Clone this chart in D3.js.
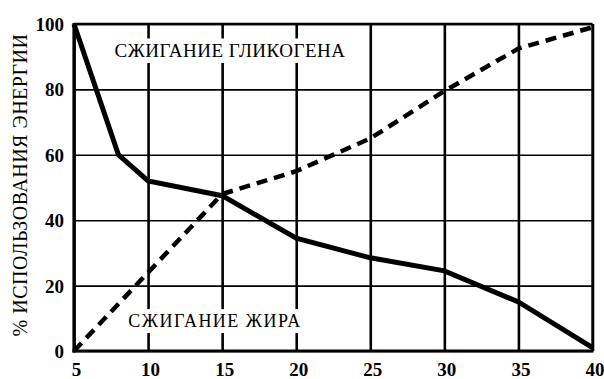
<!DOCTYPE html>
<html><head><meta charset="utf-8">
<script src="https://cdn.jsdelivr.net/npm/d3@7"></script>
<style>body{margin:0;background:#fff}svg{display:block}
svg text{font-family:"Liberation Serif","DejaVu Serif",serif;}
</style>
</head><body>
<svg id="c" width="604" height="379"></svg>
<script>
const xTicks = [5,10,15,20,25,30,35,40];
const yTicks = [0,20,40,60,80,100];
const fatX = [5,8,10,15,20,25,30,35,40];
const fatY = [100,60,52,47.5,34.5,28.5,24.5,15,1];
const glyX = [5,10,15,20,25,30,35,40];
const glyY = [0,24,48,55,65,79.5,92.5,99];
const yTitle = "% ИСПОЛЬЗОВАНИЯ ЭНЕРГИИ";
const labelGly = "СЖИГАНИЕ ГЛИКОГЕНА";
const labelFat = "СЖИГАНИЕ ЖИРА";

const svg = d3.select("#c");
const L=74, R=592.5, T=24, B=351;
const x = d3.scaleLinear().domain([5,40]).range([L,R]);
const y = d3.scaleLinear().domain([0,100]).range([B,T]);

const gy = svg.append("g").attr("transform",`translate(${L},0)`)
  .call(d3.axisLeft(y).tickValues(yTicks).tickSize(-(R-L)).tickPadding(10));
gy.select(".domain").remove();
gy.attr("font-family",null);
gy.selectAll(".tick line").attr("stroke","#000").attr("stroke-width",1.6);
gy.selectAll(".tick text").style("font-weight","bold")
  .style("font-size","19px").attr("fill","#000").attr("dy","0.34em");

const gx = svg.append("g").attr("transform",`translate(0,${B})`)
  .call(d3.axisBottom(x).tickValues(xTicks).tickSize(-(B-T)).tickPadding(0));
gx.select(".domain").remove();
gx.attr("font-family",null);
gx.selectAll(".tick line").attr("stroke","#000").attr("stroke-width",2.6);
gx.selectAll(".tick text").style("font-weight","bold")
  .style("font-size","19px").attr("fill","#000").attr("dy","0").attr("y",25).attr("dx",2);

svg.append("line").attr("x1",L).attr("x2",R).attr("y1",T).attr("y2",T).attr("stroke","#000").attr("stroke-width",2.4);
svg.append("line").attr("x1",R).attr("x2",R).attr("y1",T).attr("y2",B).attr("stroke","#000").attr("stroke-width",2.2);
svg.append("line").attr("x1",L).attr("x2",L).attr("y1",T-1).attr("y2",B+1.5).attr("stroke","#000").attr("stroke-width",3.2);
svg.append("line").attr("x1",L-1.5).attr("x2",R+1).attr("y1",B).attr("y2",B).attr("stroke","#000").attr("stroke-width",3.2);

function label(txt, cx, cy, fs, ls){
  const g = svg.append("g");
  const r = g.append("rect").attr("fill","#fff");
  const t = g.append("text").attr("x",cx).attr("y",cy).attr("text-anchor","middle")
    .style("font-size",fs+"px").attr("letter-spacing",ls)
    .attr("fill","#000").text(txt);
  const b = t.node().getBBox();
  r.attr("x",b.x-3).attr("y",cy-fs*0.66-6).attr("width",b.width+6).attr("height",fs*0.66+12);
}
label(labelGly, 230, 57, 19, 0.5);
label(labelFat, 215, 327, 18, 1.5);

const line = d3.line().x(d=>x(d[0])).y(d=>y(d[1]));
svg.append("path").datum(glyX.map((v,i)=>[v,glyY[i]])).attr("d",line)
  .attr("fill","none").attr("stroke","#000").attr("stroke-width",4.5)
  .attr("stroke-dasharray","11,7");
svg.append("path").datum(fatX.map((v,i)=>[v,fatY[i]])).attr("d",line)
  .attr("fill","none").attr("stroke","#000").attr("stroke-width",5)
  .attr("stroke-linejoin","miter");

svg.append("text").attr("transform","translate(27,185) rotate(-90)")
  .attr("text-anchor","middle").style("font-size","20px").attr("letter-spacing",0.5)
  .attr("fill","#000").text(yTitle);
</script>
</body></html>
